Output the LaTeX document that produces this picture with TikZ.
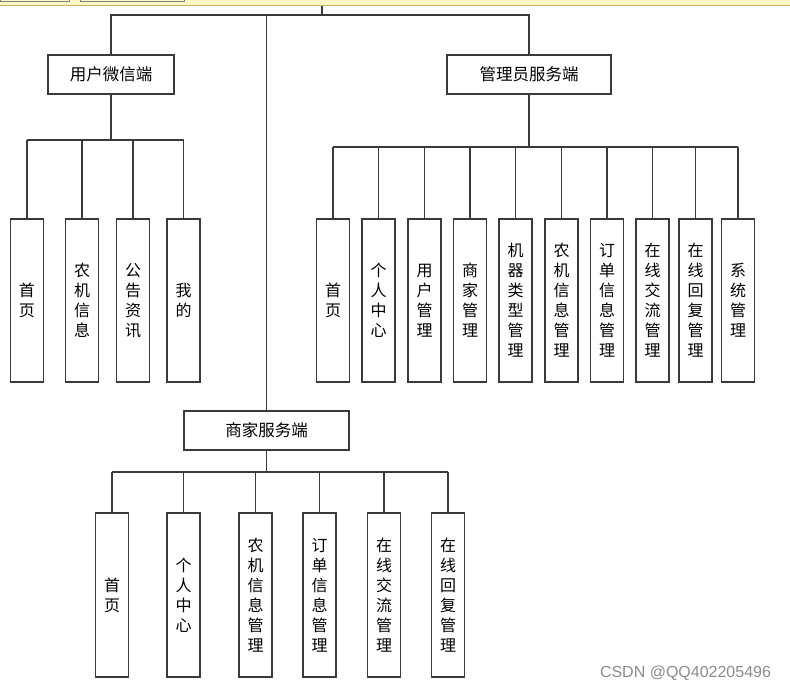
\documentclass[tikz,border=0pt]{standalone}
\usepackage{fontspec}
\newfontfamily\cjk{Noto Sans CJK SC}
\newfontfamily\wmfont{Liberation Sans}
\definecolor{barfill}{HTML}{FFF7C4}
\definecolor{barline}{HTML}{C9B45A}
\definecolor{linec}{HTML}{3A3A3A}
\begin{document}
\begin{tikzpicture}[x=1pt,y=-1pt,
  conn/.style={draw=linec, line width=1.3pt},
  box/.style={draw=linec, line width=1.3pt, fill=white, inner sep=0pt,
    font=\cjk\fontsize{16}{20}\selectfont, align=center},
  hbox/.style={box, font=\cjk\fontsize{16.5}{20}\selectfont, minimum height=39},
  vbox/.style={box, minimum width=33, minimum height=163},
  vboxm/.style={box, minimum width=33, minimum height=164}]
\useasboundingbox (0,0) rectangle (790,691);
\fill[white] (0,0) rectangle (790,691);
% top bar
\fill[barfill] (0,0) rectangle (790,5);
\draw[barline, line width=1pt] (0,5) -- (790,5);
\draw[gray, line width=0.8pt] (0.5,-5) rectangle (69,1.5);
\draw[gray, line width=0.8pt] (80,-5) rectangle (184,1.5);

% header nodes
\node[hbox, minimum width=126] (u) at (111,74.5) {用户微信端};
\node[hbox, minimum width=164] (a) at (529,74.5) {管理员服务端};
\node[hbox, minimum width=165] (m) at (266.5,430.5) {商家服务端};

\coordinate (top) at (322,5.5);
\coordinate (bus) at (322,15);
\draw[conn] (top) -- (bus);
\draw[conn] (u.north) -- (u.north |- bus) -- (a.north |- bus) -- (a.north);
\draw[conn] (m.north) -- (m.north |- bus);

% user children
\coordinate (ub) at (111,140);
\foreach \i/\x/\t in {1/27/{首\\页}, 2/82/{农\\机\\信\\息}, 3/133/{公\\告\\资\\讯}, 4/183.5/{我\\的}}{
  \node[vbox] (u\i) at (\x,300.5) {\t};
  \draw[conn] (u\i.north) -- (u\i.north |- ub);
}
\draw[conn] (u.south) -- (ub);
\draw[conn] (u1.north |- ub) -- (u4.north |- ub);

% admin children
\coordinate (ab) at (529,147);
\foreach \i/\x/\t in {1/333/{首\\页}, 2/378.5/{个\\人\\中\\心}, 3/424.5/{用\\户\\管\\理},
  4/470/{商\\家\\管\\理}, 5/515.5/{机\\器\\类\\型\\管\\理}, 6/561.5/{农\\机\\信\\息\\管\\理},
  7/607/{订\\单\\信\\息\\管\\理}, 8/652.5/{在\\线\\交\\流\\管\\理}, 9/695.5/{在\\线\\回\\复\\管\\理},
  10/738/{系\\统\\管\\理}}{
  \node[vbox] (a\i) at (\x,300.5) {\t};
  \draw[conn] (a\i.north) -- (a\i.north |- ab);
}
\draw[conn] (a.south) -- (ab);
\draw[conn] (a1.north |- ab) -- (a10.north |- ab);

% merchant children
\coordinate (mb) at (266.5,472);
\foreach \i/\x/\t in {1/112/{首\\页}, 2/183.5/{个\\人\\中\\心}, 3/255.5/{农\\机\\信\\息\\管\\理},
  4/319.5/{订\\单\\信\\息\\管\\理}, 5/384/{在\\线\\交\\流\\管\\理}, 6/448/{在\\线\\回\\复\\管\\理}}{
  \node[vboxm] (m\i) at (\x,595) {\t};
  \draw[conn] (m\i.north) -- (m\i.north |- mb);
}
\draw[conn] (m.south) -- (mb);
\draw[conn] (m1.north |- mb) -- (m6.north |- mb);

% watermark
\node[text=black!45, font=\wmfont\fontsize{16}{18}\selectfont, inner sep=0pt] (wm) at (685.5,673) {CSDN @QQ402205496};
\end{tikzpicture}
\end{document}
